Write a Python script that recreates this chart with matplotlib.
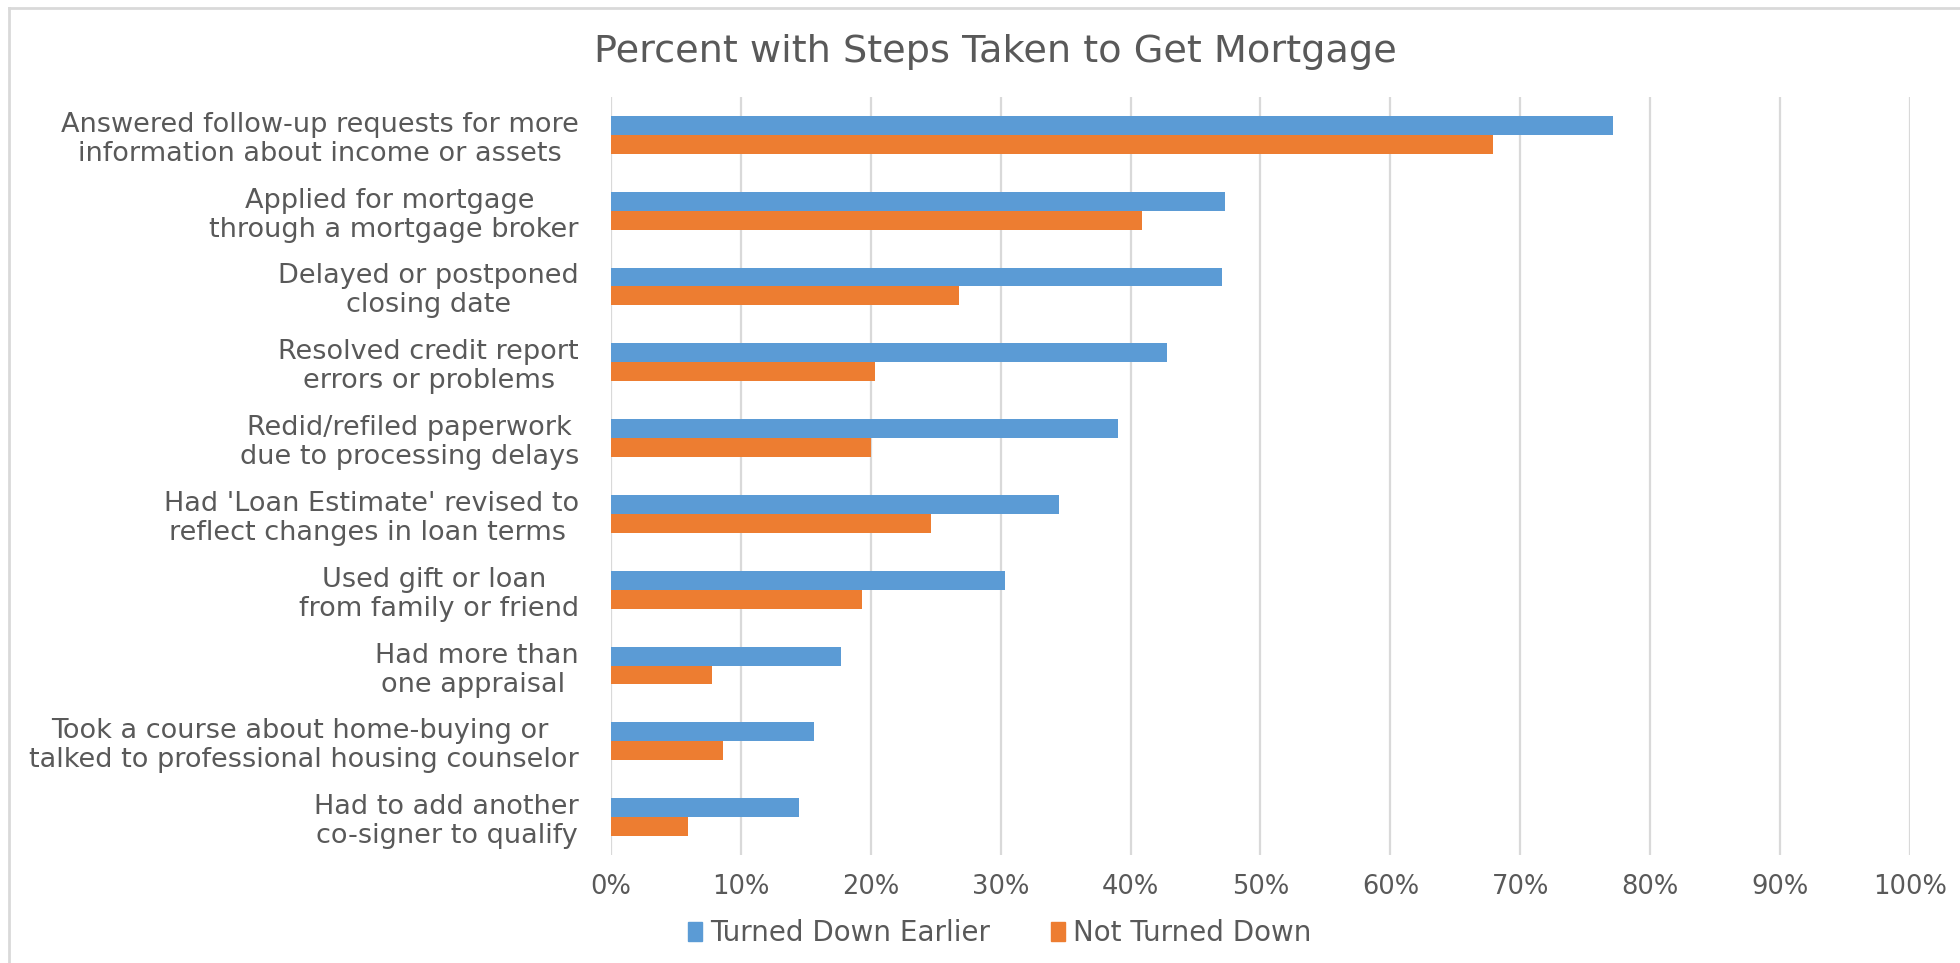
import matplotlib.pyplot as plt
from matplotlib.patches import Patch
from matplotlib.lines import Line2D
import numpy as np

# survey steps, top to bottom
steps = [
    "Answered follow-up requests for more\ninformation about income or assets",
    "Applied for mortgage \nthrough a mortgage broker",
    "Delayed or postponed\nclosing date",
    "Resolved credit report\nerrors or problems",
    "Redid/refiled paperwork\ndue to processing delays",
    "Had 'Loan Estimate' revised to\nreflect changes in loan terms ",
    "Used gift or loan \nfrom family or friend",
    "Had more than\none appraisal ",
    "Took a course about home-buying or \ntalked to professional housing counselor",
    "Had to add another\nco-signer to qualify",
]
turned_down = [77.1, 47.3, 47.0, 42.8, 39.0, 34.5, 30.3, 17.7, 15.6, 14.5]
not_turned_down = [67.9, 40.9, 26.8, 20.3, 20.0, 24.6, 19.3, 7.8, 8.6, 5.9]
x_ticks = np.arange(0, 101, 10)

blue = "#5B9BD5"
orange = "#ED7D31"
text_grey = "#595959"
font = "DejaVu Sans"

fig = plt.figure(figsize=(19.6, 9.63), dpi=100)
ax = fig.add_axes([0.3117, 0.1121, 0.6628, 0.7872])

y = np.arange(len(steps))
h = 0.25
ax.barh(y - h / 2, turned_down, height=h, color=blue, zorder=3)
ax.barh(y + h / 2, not_turned_down, height=h, color=orange, zorder=3)

ax.set_xlim(0, 100)
ax.set_ylim(len(steps) - 0.5, -0.5)
ax.set_xticks(x_ticks)
ax.set_xticklabels([f"{t}%" for t in x_ticks], fontsize=18.5, color=text_grey, family=font)
ax.set_yticks(y)
ax.set_yticklabels(steps, fontsize=19.5, color=text_grey, family=font, ha="right",
                   multialignment="center", linespacing=1.15)
ax.tick_params(axis="both", length=0)
ax.tick_params(axis="x", pad=14)
ax.tick_params(axis="y", pad=23)
ax.grid(axis="x", color="#D9D9D9", lw=1.6, zorder=0)
for s in ax.spines.values():
    s.set_visible(False)

fig.text(0.508, 0.946, "Percent with Steps Taken to Get Mortgage", ha="center", va="center",
         fontsize=27.5, color=text_grey, family=font)

handles = [Patch(color=blue), Patch(color=orange)]
fig.legend(handles, ["Turned Down Earlier", "Not Turned Down"], loc="center",
           bbox_to_anchor=(0.51, 0.031), ncol=2, frameon=False,
           handlelength=0.5, handleheight=0.7, handletextpad=0.3, columnspacing=2.2,
           prop={"family": font, "size": 20}, labelcolor=text_grey)

# chart frame edges
fig.add_artist(Line2D([9 / 1960, 9 / 1960], [0, 1 - 8 / 963], color="#D9D9D9", lw=2))
fig.add_artist(Line2D([9 / 1960, 1], [1 - 8 / 963, 1 - 8 / 963], color="#D9D9D9", lw=2))

fig.savefig("out.png", dpi=100)
